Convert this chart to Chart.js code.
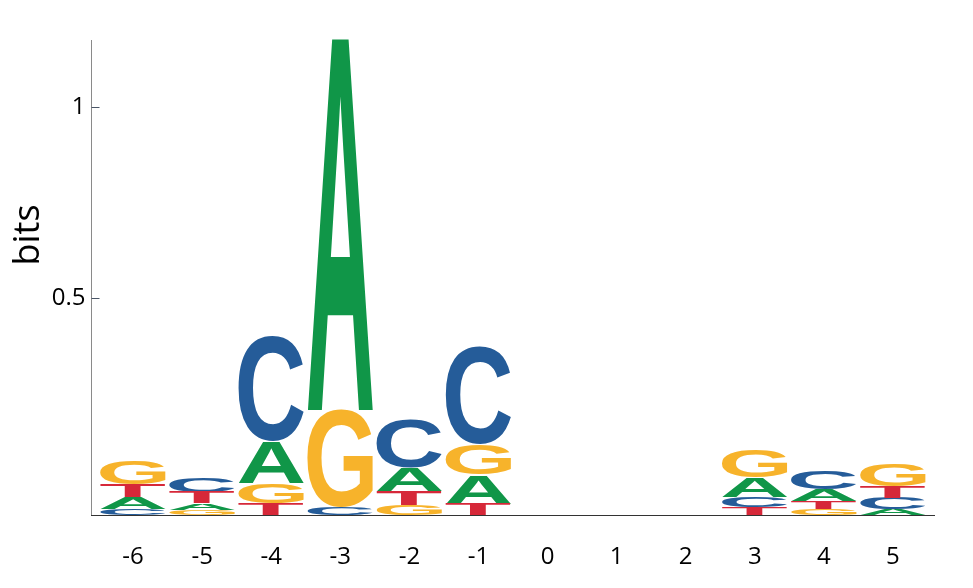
<!DOCTYPE html>
<html>
<head>
<meta charset="utf-8">
<script src="https://cdn.jsdelivr.net/npm/chart.js@4/dist/chart.umd.min.js"></script>
<style>
  html, body { margin: 0; padding: 0; background: #fff; }
  #wrap { width: 973px; height: 588px; }
</style>
</head>
<body>
<div id="wrap"><canvas id="logo" width="973" height="588"></canvas></div>
<script>
// positions along the motif
const positions = ['-6', '-5', '-4', '-3', '-2', '-1', '0', '1', '2', '3', '4', '5'];

// letter heights in bits, one value per position
const heightA = [0.031, 0.018, 0.110, 0.986, 0.060, 0.076, 0, 0, 0, 0.052, 0.031, 0.016];
const heightC = [0.016, 0.037, 0.275, 0.021, 0.126, 0.254, 0, 0, 0, 0.026, 0.047, 0.029];
const heightG = [0.060, 0.013, 0.052, 0.254, 0.026, 0.079, 0, 0, 0, 0.073, 0.016, 0.058];
const heightT = [0.034, 0.029, 0.031, 0.000, 0.037, 0.029, 0, 0, 0, 0.021, 0.021, 0.031];

const yTicks = [0.5, 1];
const yMin = -0.068;
const yMax = 1.175;

const letters = ['A', 'C', 'G', 'T'];
const heights = { A: heightA, C: heightC, G: heightG, T: heightT };
const colors = { A: '#109648', C: '#255C99', G: '#F7B32B', T: '#D62839' };

// stack letters per column, smallest at the bottom
const ranges = { A: [], C: [], G: [], T: [] };
positions.forEach((p, i) => {
  const order = letters.slice().sort((a, b) => heights[a][i] - heights[b][i]);
  let lo = yMin;
  order.forEach(L => {
    const h = heights[L][i];
    ranges[L][i] = h > 0 ? [lo, lo + h] : null;
    lo += h;
  });
});

const glyphFont = 'bold 100px "Liberation Sans"';
const axisGap = 7.5; // space between y axis line and first column

// stretch each letter into its bar's box
const letterPlugin = {
  id: 'letters',
  afterDraw(chart) {
    const ctx = chart.ctx;
    const ys = chart.scales.y;
    ctx.save();
    ctx.font = glyphFont;
    ctx.textAlign = 'left';
    ctx.textBaseline = 'alphabetic';
    chart.data.datasets.forEach((ds, di) => {
      const meta = chart.getDatasetMeta(di);
      const m = ctx.measureText(ds.label);
      const gw = m.actualBoundingBoxLeft + m.actualBoundingBoxRight;
      const gh = m.actualBoundingBoxAscent + m.actualBoundingBoxDescent;
      meta.data.forEach((bar, i) => {
        const v = ds.data[i];
        if (!v) return;
        const { x, width } = bar.getProps(['x', 'width'], true);
        const top = ys.getPixelForValue(v[1]);
        const h = ys.getPixelForValue(v[0]) - top;
        ctx.save();
        ctx.translate(x - width / 2, top);
        ctx.scale(width / gw, h / gh);
        ctx.fillStyle = colors[ds.label];
        ctx.fillText(ds.label, m.actualBoundingBoxLeft, m.actualBoundingBoxAscent);
        ctx.restore();
      });
    });
    ctx.restore();
  }
};

const axesPlugin = {
  id: 'axesLines',
  afterDraw(chart) {
    const ctx = chart.ctx;
    const area = chart.chartArea;
    const ys = chart.scales.y;
    const x0 = Math.round(area.left - axisGap) + 0.5;
    ctx.save();
    ctx.lineWidth = 1;
    ctx.strokeStyle = '#8a8a8a';
    ctx.beginPath();
    ctx.moveTo(x0, area.top);
    ctx.lineTo(x0, area.bottom);
    ctx.stroke();
    ctx.strokeStyle = '#333';
    ctx.beginPath();
    ctx.moveTo(x0 - 0.5, area.bottom + 0.5);
    ctx.lineTo(area.right + axisGap, area.bottom + 0.5);
    ctx.stroke();
    // inward tick marks
    ctx.strokeStyle = '#4a5566';
    yTicks.forEach(v => {
      const py = Math.round(ys.getPixelForValue(v)) + 0.5;
      ctx.beginPath();
      ctx.moveTo(x0, py);
      ctx.lineTo(x0 + 8, py);
      ctx.stroke();
    });
    // y axis title
    ctx.translate(29, 235);
    ctx.rotate(-Math.PI / 2);
    ctx.fillStyle = '#000';
    ctx.font = '36px "Open Sans"';
    ctx.textAlign = 'center';
    ctx.textBaseline = 'middle';
    ctx.fillText('bits', 0, 0);
    ctx.restore();
  }
};

new Chart(document.getElementById('logo'), {
  type: 'bar',
  data: {
    labels: positions,
    datasets: letters.map(L => ({
      label: L,
      data: ranges[L],
      backgroundColor: 'rgba(0,0,0,0)',
      borderWidth: 0,
      grouped: false,
      barPercentage: 1,
      categoryPercentage: 0.95
    }))
  },
  options: {
    responsive: false,
    animation: false,
    layout: { padding: { top: 40, right: 45.5, left: 8, bottom: 0 } },
    plugins: { legend: { display: false }, tooltip: { enabled: false } },
    scales: {
      x: {
        grid: { display: false, drawTicks: false },
        border: { display: false },
        ticks: { color: '#000', font: { family: '"Open Sans"', size: 24 }, padding: 28, maxRotation: 0 },
        afterFit: s => { s.height = 73; }
      },
      y: {
        min: yMin,
        max: yMax,
        grid: { display: false, drawTicks: false },
        border: { display: false },
        afterBuildTicks: s => { s.ticks = yTicks.map(v => ({ value: v })); },
        ticks: { color: '#000', font: { family: '"Open Sans"', size: 24 }, padding: 13, callback: v => String(v) },
        afterFit: s => { s.width = 90.5; }
      }
    }
  },
  plugins: [letterPlugin, axesPlugin]
});
</script>
</body>
</html>
